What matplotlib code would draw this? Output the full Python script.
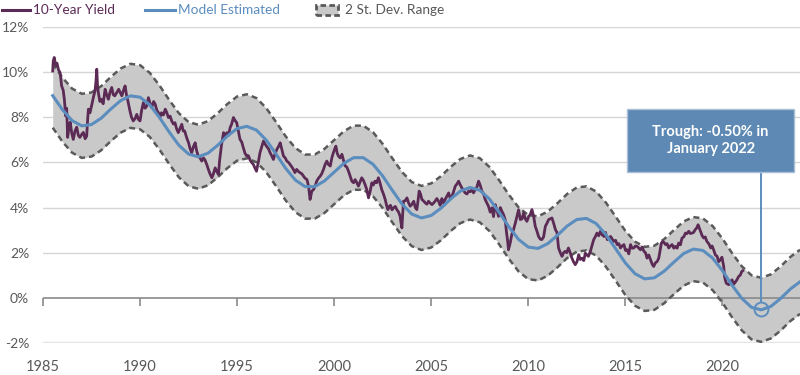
import matplotlib
matplotlib.use("Agg")
import matplotlib.pyplot as plt
from matplotlib.lines import Line2D
from matplotlib.patches import Rectangle

plt.rcParams['font.family'] = ['Lato', 'DejaVu Sans']

# model estimate (half-year steps)
model_years = [1985.5 + 0.5 * i for i in range(78)]
model_values = [8.96, 8.34, 7.85, 7.62, 7.68, 7.96, 8.37, 8.74, 8.95, 8.89,
                8.55, 7.99, 7.35, 6.76, 6.37, 6.25, 6.41, 6.76, 7.17, 7.50,
                7.60, 7.43, 6.99, 6.38, 5.74, 5.22, 4.93, 4.93, 5.18, 5.57,
                5.96, 6.21, 6.21, 5.92, 5.40, 4.76, 4.15, 3.71, 3.54, 3.65,
                3.97, 4.38, 4.73, 4.89, 4.77, 4.38, 3.79, 3.15, 2.59, 2.25,
                2.19, 2.40, 2.77, 3.18, 3.47, 3.52, 3.29, 2.80, 2.18, 1.55,
                1.07, 0.84, 0.89, 1.18, 1.58, 1.96, 2.16, 2.10, 1.76, 1.21,
                0.56, -0.02, -0.42, -0.53, -0.38, -0.03, 0.39, 0.71]
two_sd = 1.42

# 10-year yield
yield_years = [
    1985.50, 1985.53, 1985.58, 1985.65, 1985.72, 1985.80, 1985.88, 1985.96, 1986.04, 1986.10,
    1986.17, 1986.22, 1986.27, 1986.33, 1986.40, 1986.48, 1986.56, 1986.65, 1986.74, 1986.82,
    1986.90, 1987.00, 1987.08, 1987.17, 1987.25, 1987.30, 1987.34, 1987.42, 1987.50, 1987.60,
    1987.68, 1987.73, 1987.77, 1987.81, 1987.85, 1987.93, 1988.00, 1988.10, 1988.20, 1988.28,
    1988.37, 1988.45, 1988.54, 1988.62, 1988.70, 1988.80, 1988.90, 1988.98, 1989.06, 1989.15,
    1989.23, 1989.30, 1989.38, 1989.48, 1989.56, 1989.65, 1989.75, 1989.83, 1989.92, 1990.00,
    1990.08, 1990.17, 1990.26, 1990.35, 1990.43, 1990.52, 1990.60, 1990.70, 1990.78, 1990.87,
    1990.95, 1991.03, 1991.10, 1991.20, 1991.30, 1991.38, 1991.46, 1991.55, 1991.63, 1991.72,
    1991.80, 1991.88, 1991.97, 1992.06, 1992.15, 1992.22, 1992.30, 1992.40, 1992.50, 1992.58,
    1992.66, 1992.75, 1992.84, 1992.92, 1993.00, 1993.09, 1993.18, 1993.27, 1993.35, 1993.44,
    1993.52, 1993.60, 1993.70, 1993.78, 1993.87, 1993.95, 1994.04, 1994.10, 1994.20, 1994.30,
    1994.38, 1994.47, 1994.56, 1994.64, 1994.72, 1994.81, 1994.90, 1994.98, 1995.06, 1995.15,
    1995.24, 1995.32, 1995.41, 1995.50, 1995.58, 1995.67, 1995.75, 1995.84, 1995.92, 1996.00,
    1996.09, 1996.18, 1996.27, 1996.36, 1996.45, 1996.53, 1996.62, 1996.70, 1996.78, 1996.87,
    1996.96, 1997.05, 1997.13, 1997.22, 1997.30, 1997.39, 1997.48, 1997.56, 1997.65, 1997.73,
    1997.82, 1997.90, 1997.98, 1998.07, 1998.16, 1998.25, 1998.33, 1998.42, 1998.50, 1998.60,
    1998.68, 1998.73, 1998.76, 1998.85, 1998.94, 1999.02, 1999.10, 1999.19, 1999.28, 1999.36,
    1999.45, 1999.53, 1999.62, 1999.71, 1999.80, 1999.88, 1999.96, 2000.03, 2000.09, 2000.16,
    2000.22, 2000.31, 2000.40, 2000.48, 2000.57, 2000.65, 2000.74, 2000.82, 2000.91, 2001.00,
    2001.08, 2001.17, 2001.25, 2001.34, 2001.42, 2001.51, 2001.60, 2001.68, 2001.77, 2001.85,
    2001.94, 2002.02, 2002.10, 2002.19, 2002.28, 2002.36, 2002.45, 2002.54, 2002.63, 2002.70,
    2002.77, 2002.84, 2002.90, 2002.98, 2003.06, 2003.15, 2003.23, 2003.32, 2003.40, 2003.45,
    2003.49, 2003.53, 2003.57, 2003.66, 2003.75, 2003.84, 2003.92, 2004.01, 2004.10, 2004.18,
    2004.26, 2004.32, 2004.38, 2004.45, 2004.52, 2004.60, 2004.69, 2004.78, 2004.86, 2004.95,
    2005.04, 2005.12, 2005.20, 2005.29, 2005.38, 2005.46, 2005.55, 2005.63, 2005.72, 2005.81,
    2005.90, 2005.98, 2006.07, 2006.15, 2006.24, 2006.33, 2006.41, 2006.50, 2006.58, 2006.67,
    2006.75, 2006.84, 2006.93, 2007.01, 2007.10, 2007.18, 2007.27, 2007.35, 2007.44, 2007.52,
    2007.61, 2007.70, 2007.78, 2007.87, 2007.95, 2008.04, 2008.13, 2008.21, 2008.30, 2008.38,
    2008.47, 2008.56, 2008.64, 2008.72, 2008.81, 2008.88, 2008.94, 2008.98, 2009.07, 2009.15,
    2009.24, 2009.33, 2009.42, 2009.50, 2009.59, 2009.68, 2009.76, 2009.85, 2009.93, 2010.02,
    2010.10, 2010.19, 2010.28, 2010.36, 2010.45, 2010.53, 2010.62, 2010.70, 2010.79, 2010.88,
    2010.96, 2011.05, 2011.13, 2011.22, 2011.31, 2011.40, 2011.48, 2011.56, 2011.65, 2011.74,
    2011.82, 2011.90, 2011.98, 2012.07, 2012.16, 2012.25, 2012.33, 2012.42, 2012.51, 2012.60,
    2012.68, 2012.77, 2012.86, 2012.94, 2013.02, 2013.10, 2013.20, 2013.28, 2013.37, 2013.45,
    2013.54, 2013.63, 2013.72, 2013.80, 2013.90, 2013.98, 2014.07, 2014.16, 2014.24, 2014.33,
    2014.41, 2014.50, 2014.58, 2014.67, 2014.75, 2014.84, 2014.93, 2015.01, 2015.10, 2015.18,
    2015.27, 2015.35, 2015.44, 2015.52, 2015.61, 2015.70, 2015.78, 2015.87, 2015.96, 2016.04,
    2016.12, 2016.21, 2016.30, 2016.38, 2016.46, 2016.55, 2016.64, 2016.72, 2016.80, 2016.86,
    2016.93, 2017.00, 2017.07, 2017.15, 2017.24, 2017.32, 2017.41, 2017.50, 2017.58, 2017.67,
    2017.75, 2017.84, 2017.92, 2018.01, 2018.10, 2018.18, 2018.27, 2018.35, 2018.44, 2018.52,
    2018.60, 2018.68, 2018.75, 2018.81, 2018.87, 2018.96, 2019.04, 2019.12, 2019.20, 2019.30,
    2019.40, 2019.47, 2019.55, 2019.64, 2019.73, 2019.81, 2019.90, 2019.98, 2020.07, 2020.11,
    2020.15, 2020.20, 2020.33, 2020.42, 2020.50, 2020.58, 2020.67, 2020.75, 2020.84, 2020.92,
    2021.00, 2021.05]
yield_values = [
    10.05, 10.50, 10.65, 10.30, 10.40, 10.10, 9.98, 9.39, 9.20, 8.80,
    8.06, 8.40, 7.11, 7.50, 7.78, 7.30, 7.02, 7.40, 7.56, 7.20,
    7.11, 7.25, 7.33, 7.05, 7.17, 7.90, 8.36, 8.20, 8.50, 8.90,
    9.17, 9.60, 10.13, 9.40, 9.10, 8.70, 8.80, 8.60, 9.24, 9.00,
    8.80, 9.10, 9.32, 9.00, 8.95, 9.10, 9.24, 9.10, 8.95, 9.20,
    9.39, 9.00, 8.70, 8.28, 8.00, 7.84, 7.95, 8.13, 7.90, 7.84,
    8.30, 8.65, 8.40, 8.50, 8.87, 8.60, 8.43, 8.70, 8.58, 8.30,
    8.20, 8.00, 8.20, 8.10, 8.36, 8.20, 7.99, 8.05, 7.84, 7.70,
    7.76, 7.50, 7.32, 7.50, 7.69, 7.40, 7.39, 7.10, 6.87, 6.60,
    6.43, 6.70, 6.87, 6.50, 6.28, 6.20, 6.06, 6.20, 6.10, 5.90,
    5.69, 5.50, 5.32, 5.50, 5.76, 5.60, 5.47, 6.10, 6.80, 7.32,
    7.10, 7.32, 7.20, 7.54, 7.70, 7.99, 7.85, 7.76, 7.40, 7.02,
    6.90, 6.65, 6.40, 6.28, 6.30, 6.10, 6.00, 5.91, 5.75, 5.61,
    6.00, 6.43, 6.70, 6.95, 6.80, 6.70, 6.60, 6.43, 6.30, 6.13,
    6.40, 6.58, 6.70, 6.87, 6.60, 6.28, 6.20, 6.06, 6.00, 5.91,
    5.80, 5.69, 5.55, 5.69, 5.60, 5.54, 5.50, 5.39, 5.30, 5.24,
    4.95, 4.58, 4.36, 4.73, 4.80, 4.95, 5.17, 5.30, 5.39, 5.50,
    5.69, 5.90, 6.06, 5.90, 5.84, 6.20, 6.43, 6.60, 6.72, 6.40,
    6.28, 6.20, 6.36, 6.10, 5.84, 5.80, 5.61, 5.40, 5.17, 5.10,
    5.24, 5.10, 4.95, 5.15, 5.32, 5.20, 5.00, 4.80, 4.43, 4.70,
    5.10, 5.00, 5.17, 5.10, 5.32, 5.10, 4.80, 4.60, 4.36, 4.10,
    3.91, 4.05, 4.10, 3.90, 3.99, 4.05, 3.91, 3.80, 3.61, 3.30,
    3.10, 3.70, 4.28, 4.30, 4.43, 4.20, 4.06, 4.15, 4.28, 4.00,
    3.91, 4.30, 4.73, 4.60, 4.36, 4.30, 4.21, 4.15, 4.28, 4.20,
    4.13, 4.20, 4.28, 4.40, 4.28, 4.10, 4.40, 4.20, 4.36, 4.50,
    4.65, 4.40, 4.50, 4.70, 4.95, 5.05, 5.17, 5.00, 4.87, 4.75,
    4.65, 4.60, 4.73, 4.70, 4.80, 4.65, 4.80, 4.90, 5.17, 5.00,
    4.73, 4.60, 4.36, 4.20, 4.06, 3.80, 3.99, 3.60, 4.13, 3.90,
    3.61, 4.00, 3.84, 3.70, 3.47, 2.90, 2.50, 2.13, 2.43, 2.80,
    3.02, 3.30, 3.61, 3.90, 3.47, 3.50, 3.76, 3.50, 3.39, 3.60,
    3.69, 3.91, 3.60, 3.17, 2.95, 2.72, 2.60, 2.58, 2.70, 3.17,
    3.30, 3.47, 3.50, 3.54, 3.30, 3.02, 2.90, 2.21, 2.00, 1.84,
    2.00, 2.06, 2.00, 2.21, 2.00, 1.76, 1.60, 1.47, 1.60, 1.91,
    1.70, 1.76, 1.65, 1.98, 1.90, 1.84, 2.06, 2.30, 2.58, 2.70,
    2.87, 2.75, 2.95, 2.80, 2.72, 2.90, 2.58, 2.65, 2.72, 2.60,
    2.50, 2.55, 2.36, 2.40, 2.21, 2.30, 2.36, 2.10, 2.13, 1.95,
    2.36, 2.20, 2.21, 2.30, 2.28, 2.20, 2.13, 2.25, 2.06, 2.00,
    1.76, 1.90, 1.69, 1.50, 1.39, 1.55, 1.61, 1.75, 2.13, 2.43,
    2.50, 2.45, 2.36, 2.40, 2.21, 2.30, 2.36, 2.20, 2.28, 2.20,
    2.43, 2.35, 2.65, 2.70, 2.87, 2.85, 2.95, 2.85, 2.87, 2.90,
    3.02, 3.10, 3.24, 3.10, 2.95, 2.75, 2.65, 2.70, 2.50, 2.40,
    2.21, 2.30, 2.13, 1.90, 1.84, 1.60, 1.69, 1.80, 1.39, 0.95,
    0.80, 0.65, 0.58, 0.70, 0.80, 0.60, 0.70, 0.80, 0.95, 1.00,
    1.17, 1.20]

trough_year = 2022.0
trough_value = -0.50

y_ticks = [-2, 0, 2, 4, 6, 8, 10, 12]
x_ticks = [1985, 1990, 1995, 2000, 2005, 2010, 2015, 2020]

PURPLE = "#5b2a55"
BLUE = "#5b8dbf"
BOX_BLUE = "#5d89b4"
DARK_GRAY = "#5a5a5a"
BAND_GRAY = "#c9c9c9"
TEXT_GRAY = "#595959"

upper = [m + two_sd for m in model_values]
lower = [m - two_sd for m in model_values]

fig = plt.figure(figsize=(8, 3.75), dpi=100)
ax = fig.add_axes([43 / 800, 1 - 343 / 375, 757 / 800, 316 / 375])
ax.set_xlim(1985, 2024)
ax.set_ylim(-2, 12)

# gridlines
for v in y_ticks:
    if v == 0:
        continue
    if v == -2:
        ax.axhline(v, color="#e4e4e4", lw=2.5, zorder=0)
    else:
        ax.axhline(v, color="#d6d6d6", lw=1, zorder=0)

# band
ax.fill_between(model_years, lower, upper, color=BAND_GRAY, lw=0, zorder=1)
ax.axhline(0, color="#8a8a8a", lw=1.2, zorder=2)
ax.plot(model_years, upper, color=DARK_GRAY, lw=1.8, ls=(0, (2.4, 1.6)), zorder=3)
ax.plot(model_years, lower, color=DARK_GRAY, lw=1.8, ls=(0, (2.4, 1.6)), zorder=3)

ax.plot(yield_years, yield_values, color=PURPLE, lw=2.0, zorder=4, solid_joinstyle="round")
ax.plot(model_years, model_values, color=BLUE, lw=2.2, zorder=5, solid_joinstyle="round")

# trough callout
ax.vlines(trough_year, trough_value + 0.3, 5.6, color=BLUE, lw=1.4, zorder=6)
ax.plot(trough_year, trough_value, marker="o", ms=10, mfc="none", mec=BLUE, mew=1.4, zorder=6)
ax.add_patch(Rectangle((0.771, 0.541), 0.221, 0.200, transform=ax.transAxes,
                       facecolor=BOX_BLUE, edgecolor="#a9c0d6", lw=1, zorder=7, clip_on=False))
ax.text(0.882, 0.641, "Trough: -0.50% in\nJanuary 2022", transform=ax.transAxes,
        ha="center", va="center", color="white", fontsize=10.5, fontweight="bold",
        linespacing=1.3, zorder=8)

# axes
for s in ["top", "right", "left"]:
    ax.spines[s].set_visible(False)
ax.spines["bottom"].set_visible(False)
ax.set_xticks(x_ticks)
ax.tick_params(axis="x", length=6, width=1.2, color="#8a8a8a", labelbottom=False, direction="out")
ax.spines["bottom"].set_position(("data", 0))
ax.set_yticks(y_ticks)
ax.set_yticklabels([f"{v}%" for v in y_ticks])
ax.tick_params(axis="y", length=0, pad=10, labelsize=10, labelcolor=TEXT_GRAY)

sec = ax.secondary_xaxis("bottom")
sec.set_xticks(x_ticks)
sec.tick_params(length=0, pad=12, labelsize=10.5, labelcolor=TEXT_GRAY)
sec.spines["bottom"].set_visible(False)

# legend
ly = 1 - 10 / 375
fig.add_artist(Line2D([2 / 800, 30 / 800], [ly, ly], color=PURPLE, lw=2.2))
fig.text(33 / 800, ly, "10-Year Yield", color=PURPLE, fontsize=9.8, va="center")
fig.add_artist(Line2D([145 / 800, 175 / 800], [ly, ly], color=BLUE, lw=2.2))
fig.text(178 / 800, ly, "Model Estimated", color=BLUE, fontsize=9.8, va="center")
fig.add_artist(Rectangle((316 / 800, 1 - 15 / 375), 22 / 800, 10 / 375, facecolor=BAND_GRAY,
                         edgecolor=DARK_GRAY, lw=2, ls=(0, (2, 1.2)), transform=fig.transFigure))
fig.text(345 / 800, ly, "2 St. Dev. Range", color=TEXT_GRAY, fontsize=9.8, va="center")

fig.savefig("out.png", dpi=100)
